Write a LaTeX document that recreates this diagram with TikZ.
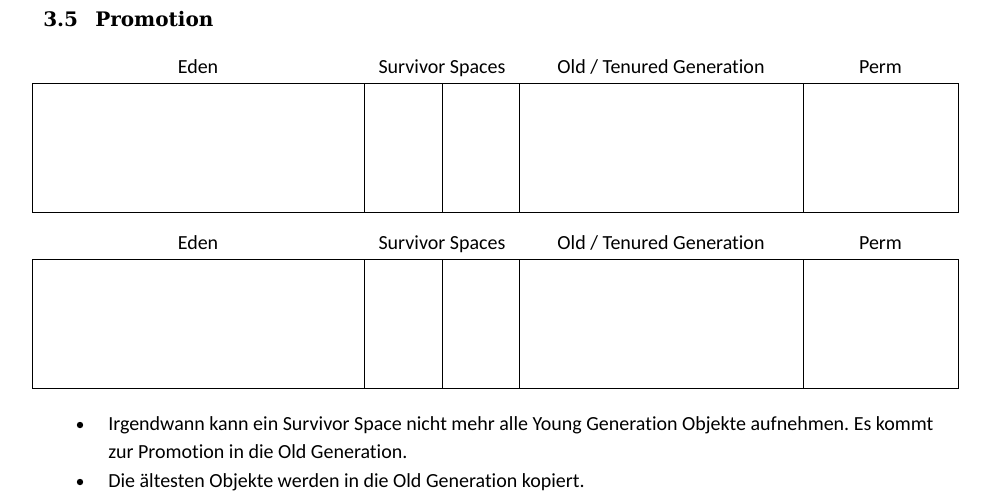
\documentclass[tikz,border=0pt]{standalone}
\usepackage{fontspec}
\setmainfont{Carlito}[Ligatures=NoCommon]
\newfontfamily\headfont{DejaVu Serif}
\frenchspacing
\begin{document}
\begin{tikzpicture}[x=0.75pt,y=-0.75pt,
  cell/.style={draw=black,line width=0.75pt,anchor=north west,inner sep=0pt,outer sep=0pt,minimum height=96.75pt},
  lab/.style={anchor=base,inner sep=0pt,font=\fontsize{15}{18}\selectfont},
  body/.style={anchor=base west,inner sep=0pt,font=\fontsize{15}{18}\selectfont},
  head/.style={anchor=base west,inner sep=0pt,font=\headfont\bfseries\fontsize{15}{18}\selectfont},
  dot/.style={circle,fill=black,inner sep=0pt,minimum size=4.8pt}]
\useasboundingbox (0,0) rectangle (1006,497);
% heading
\node[head] (num) at (43,26) {3.5};
\node[head] (title) at (95,26) {Promotion};
% two copies of the heap layout
\foreach \r/\top/\ly in {a/83/73, b/259/249}{
  \node[cell,minimum width=249pt]   (eden\r) at (32,\top) {};
  \node[cell,minimum width=58.5pt]  (sa\r)   at (364,\top) {};
  \node[cell,minimum width=57.75pt] (sb\r)   at (442,\top) {};
  \node[cell,minimum width=213pt]   (old\r)  at (519,\top) {};
  \node[cell,minimum width=116.25pt](perm\r) at (803,\top) {};
  \node[lab] (le\r) at (198,\ly) {Eden};
  \node[lab] (ls\r) at (442,\ly) {Survivor Spaces};
  \node[lab] (lo\r) at (661,\ly) {Old / Tenured Generation};
  \node[lab] (lp\r) at (880.5,\ly) {Perm};
}
% bullet list
\node[dot] (d1) at (80,425) {};
\node[body] (t1) at (108,430) {Irgendwann kann ein Survivor Space nicht mehr alle Young Generation Objekte aufnehmen. Es kommt};
\node[body] (t1b) at (108,458) {zur Promotion in die Old Generation.};
\node[dot] (d2) at (80,482) {};
\node[body] (t2) at (108,487) {Die ältesten Objekte werden in die Old Generation kopiert.};
\end{tikzpicture}
\end{document}
